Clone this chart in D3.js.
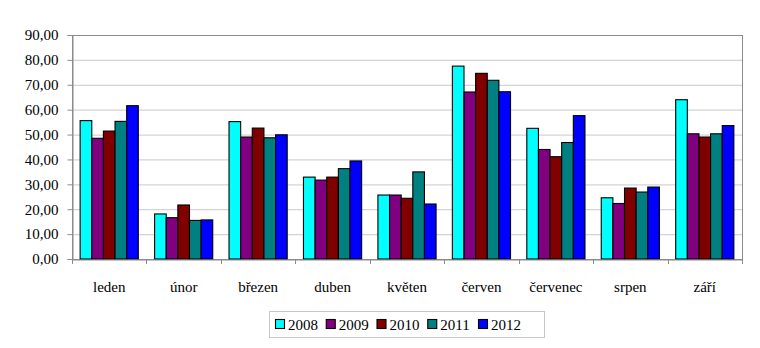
<!DOCTYPE html>
<html><head><meta charset="utf-8">
<script src="https://cdn.jsdelivr.net/npm/d3@7"></script>
<style>body{margin:0;background:#fff}svg text{font-family:"Liberation Serif" !important;font-size:15px}</style>
</head><body>
<script>
const categories = ["leden","únor","březen","duben","květen","červen","červenec","srpen","září"];
const seriesNames = ["2008","2009","2010","2011","2012"];
const seriesColors = ["#00ffff","#800080","#800000","#008080","#0000ff"];
const v2008 = [55.6,18.1,55.2,32.9,25.7,77.5,52.5,24.6,64.0];
const v2009 = [48.5,16.6,49.0,31.7,25.7,67.1,44.0,22.3,50.3];
const v2010 = [51.4,21.7,52.6,32.9,24.4,74.6,41.1,28.5,49.0];
const v2011 = [55.3,15.5,48.7,36.3,35.0,71.8,46.8,26.9,50.3];
const v2012 = [61.6,15.7,49.9,39.4,22.1,67.2,57.6,28.9,53.6];
const yTicks = [0,10,20,30,40,50,60,70,80,90];
const seriesValues = [v2008,v2009,v2010,v2011,v2012];

const FONT='"Liberation Serif"';
const W=760,H=348;
const m={left:72,right:18,top:35,bottom:89};
const svg=d3.select("body").append("svg").attr("width",W).attr("height",H).style("font-family",FONT);
const x=d3.scaleBand().domain(categories).range([m.left,W-m.right]).paddingInner(0).paddingOuter(0);
const y=d3.scaleLinear().domain([0,90]).range([H-m.bottom,m.top]);
const bw=x.bandwidth()/6.4;
const xs=d3.scaleBand().domain(seriesNames).range([0,bw*5]);

// gridlines
svg.append("g").selectAll("line").data(yTicks.filter(d=>d>0)).join("line")
 .attr("x1",m.left).attr("x2",W-m.right).attr("y1",d=>y(d)+0.5).attr("y2",d=>y(d)+0.5)
 .attr("stroke","#d4d4d4").attr("stroke-width",1.2);
// plot border
svg.append("rect").attr("x",m.left+0.5).attr("y",m.top+0.5).attr("width",W-m.right-m.left).attr("height",H-m.bottom-m.top)
 .attr("fill","none").attr("stroke","#8c8c8c").attr("stroke-width",1);

// bars
const g=svg.append("g");
seriesValues.forEach((vals,si)=>{
  g.append("g").selectAll("rect").data(vals).join("rect")
   .attr("x",(d,i)=>x(categories[i])+(x.bandwidth()-bw*5)/2+xs(seriesNames[si]))
   .attr("y",d=>y(d))
   .attr("width",xs.bandwidth())
   .attr("height",d=>y(0)-y(d))
   .attr("fill",seriesColors[si]).attr("stroke","#000").attr("stroke-width",1.1);
});

// y axis
const ya=svg.append("g").attr("transform",`translate(${m.left+0.5},0)`)
 .call(d3.axisLeft(y).tickValues(yTicks).tickSize(5).tickPadding(9).tickFormat(d=>d3.format(".2f")(d).replace(".",",")))
 .attr("font-family",null).attr("font-size",null);
ya.select(".domain").attr("stroke","#8c8c8c");
ya.selectAll(".tick line").attr("stroke","#8c8c8c");
ya.selectAll("text").attr("font-size",15).attr("font-family","Liberation Serif").attr("fill","#000");

// x axis
const xa=svg.append("g").attr("transform",`translate(0,${H-m.bottom+0.5})`)
 .call(d3.axisBottom(x).tickSize(0).tickPadding(22))
 .attr("font-family",null).attr("font-size",null);
xa.select(".domain").attr("stroke","#8c8c8c");
xa.selectAll("text").attr("font-size",15).attr("font-family","Liberation Serif").attr("fill","#000");
// category boundary ticks
svg.append("g").selectAll("line").data(categories.concat(["_end"])).join("line")
 .attr("x1",(d,i)=>Math.round(m.left+i*x.bandwidth())+0.5).attr("x2",(d,i)=>Math.round(m.left+i*x.bandwidth())+0.5)
 .attr("y1",H-m.bottom).attr("y2",H-m.bottom+5).attr("stroke","#8c8c8c");

// legend
const lg=svg.append("g");
lg.append("rect").attr("x",269.5).attr("y",311.5).attr("width",275).attr("height",26)
 .attr("fill","#fff").attr("stroke","#c8c8c8");
const lx=d3.scalePoint().domain(seriesNames).range([275,478]);
seriesNames.forEach((s,i)=>{
  lg.append("rect").attr("x",lx(s)+0.5).attr("y",319.5).attr("width",9).attr("height",9)
   .attr("fill",seriesColors[i]).attr("stroke","#000").attr("stroke-width",1.1);
  lg.append("text").attr("x",lx(s)+13).attr("y",330).attr("font-size",15).attr("font-family","Liberation Serif").text(s);
});
</script>
</body></html>
